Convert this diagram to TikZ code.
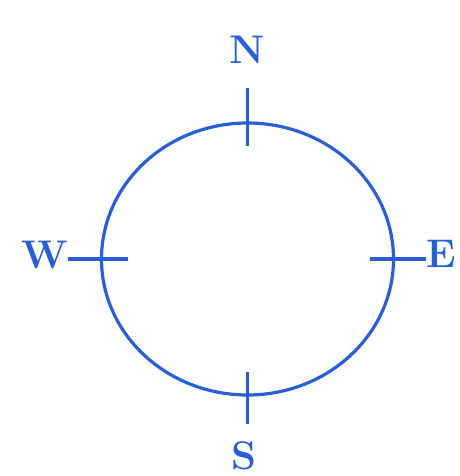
\documentclass[tikz,border=0pt]{standalone}
\usetikzlibrary{shapes.geometric}
\definecolor{cblue}{RGB}{40,95,215}
\tikzset{
  ring/.style={draw=cblue, line width=3.2pt, ellipse, minimum width=292pt, minimum height=272pt, inner sep=0pt},
  tick/.style={draw=cblue, line width=3.4pt},
  lbl/.style={text=cblue, font=\fontsize{40}{40}\selectfont\bfseries, inner sep=0pt}
}
\begin{document}
\begin{tikzpicture}[x=1pt,y=1pt]
\useasboundingbox (0,0) rectangle (459,476);
\node[ring] (c) at (247.5,217) {};
\node[lbl] (n) at (247,426) {N};
\node[lbl] (s) at (244,20) {S};
\node[lbl] (w) at (45,221) {W};
\node[lbl] (e) at (441,222) {E};
\draw[tick] ([yshift=33pt]c.north) coordinate (nt) -- ([yshift=-25pt]c.north);
\draw[tick] ([yshift=-27pt]c.south) coordinate (st) -- ([yshift=25pt]c.south);
\draw[tick] ([xshift=-32pt]c.west) coordinate (wt) -- ([xshift=28pt]c.west);
\draw[tick] (e.west |- c.east) coordinate (et) -- ([xshift=-25pt]c.east);
\end{tikzpicture}
\end{document}
